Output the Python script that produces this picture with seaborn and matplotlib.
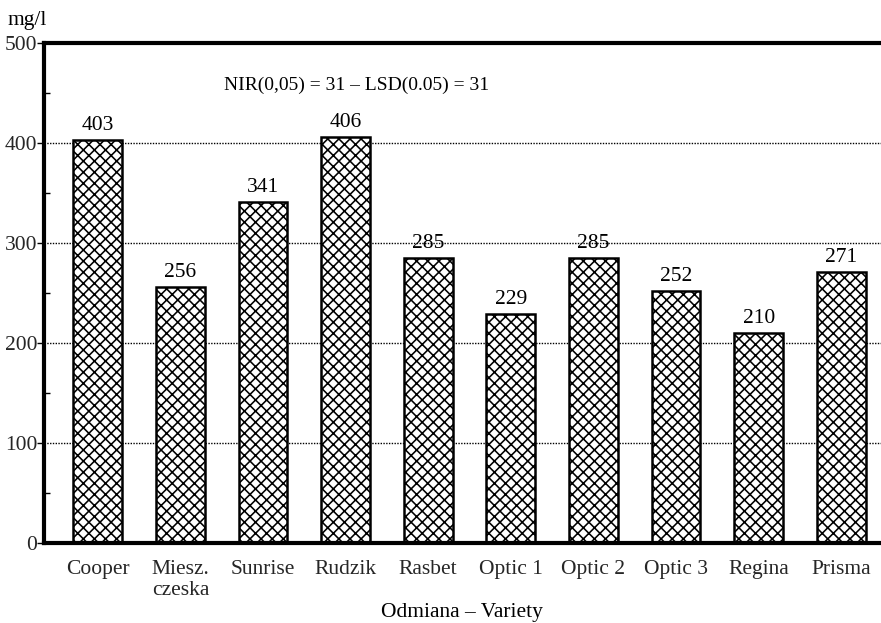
import matplotlib
matplotlib.use("Agg")
import matplotlib.pyplot as plt
from matplotlib.ticker import MultipleLocator
import seaborn as sns
import pandas as pd

# Variety names and measured content (mg/l)
varieties = ["Cooper", "Miesz.\nczeska", "Sunrise", "Rudzik", "Rasbet",
             "Optic 1", "Optic 2", "Optic 3", "Regina", "Prisma"]
values = [403, 256, 341, 406, 285, 229, 285, 252, 210, 271]
y_ticks = [0, 100, 200, 300, 400, 500]
lsd_note = "NIR(0,05) = 31 – LSD(0.05) = 31"

df = pd.DataFrame({"variety": varieties, "value": values})

FS = 15.5

sns.set_theme(style="white")
plt.rcParams["font.family"] = ["Liberation Serif", "DejaVu Serif"]
plt.rcParams["hatch.linewidth"] = 1.15
plt.rcParams["hatch.color"] = "#2a2a2a"

fig = plt.figure(figsize=(8.81, 6.23), dpi=100)
ax = fig.add_axes([44 / 881, 1 - 543 / 623, 1 - 44 / 881, (543 - 43) / 623])

sns.barplot(data=df, x="variety", y="value", ax=ax, color="white",
            edgecolor="black", linewidth=1.8, hatch="xxx", width=0.59,
            saturation=1, zorder=3)

for bar in ax.patches:
    bar.set_facecolor("white")

# value labels above the bars
for i, v in enumerate(values):
    ax.text(i, v + 5, str(v), ha="center", va="bottom", fontsize=FS,
            color="black", zorder=4)

ax.set_ylim(0, 500)
ax.set_xlim(-0.65, 9.48)
ax.set_yticks(y_ticks)
ax.set_yticklabels([str(t) for t in y_ticks], fontsize=FS)
ax.yaxis.set_minor_locator(MultipleLocator(50))
ax.tick_params(axis="y", which="major", direction="out", length=5, width=1,
               color="black", pad=0, left=True)
ax.tick_params(axis="y", which="minor", direction="in", length=4, width=1,
               color="black", left=True)
ax.tick_params(axis="x", which="major", direction="in", length=9, width=1,
               color="black", pad=12, bottom=True, labelsize=FS)
ax.set_xlabel("")
ax.set_ylabel("")

# dotted horizontal grid
for t in y_ticks[1:]:
    ax.axhline(t, color="black", linestyle=(0, (1, 1)), linewidth=1.0, zorder=1)

for side in ["left", "top", "bottom"]:
    ax.spines[side].set_visible(True)
    ax.spines[side].set_linewidth(3)
    ax.spines[side].set_color("black")
ax.spines["right"].set_visible(False)
ax.spines["top"].set_zorder(5)
ax.spines["bottom"].set_zorder(5)

ax.text(3.13, 458, lsd_note, ha="center", va="center", fontsize=14,
        color="black")

fig.text(8 / 881, 1 - 20 / 623, "mg/l", ha="left", va="center",
         fontsize=FS, color="black")
fig.text(462 / 881, 1 - 613 / 623, "Odmiana – Variety", ha="center",
         va="center", fontsize=FS, color="black")

fig.savefig("out.png", dpi=100)
